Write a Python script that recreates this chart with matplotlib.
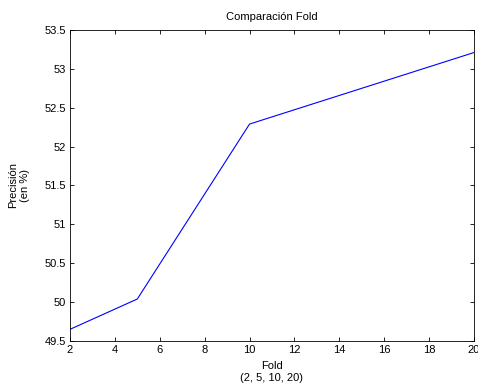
import matplotlib
matplotlib.use("Agg")
import matplotlib.pyplot as plt

folds = [2, 5, 10, 20]
precision = [49.65, 50.04, 52.29, 53.21]

plt.rcParams['font.family'] = ['Liberation Sans', 'DejaVu Sans']
plt.rcParams['font.size'] = 8

fig = plt.figure(figsize=(4.78, 3.91), dpi=100)
ax = fig.add_axes([0.1464, 0.1279, 0.8452, 0.7954])
ax.plot(folds, precision, color='blue', linewidth=0.8)
ax.set_xlim(2, 20)
ax.set_ylim(49.5, 53.5)
ax.set_xticks(range(2, 21, 2))
ax.set_yticks([49.5, 50, 50.5, 51, 51.5, 52, 52.5, 53, 53.5])
ax.set_yticklabels(['49.5', '50', '50.5', '51', '51.5', '52', '52.5', '53', '53.5'])
ax.tick_params(direction='in', top=True, right=True, length=3, width=0.6, pad=3)
for s in ax.spines.values():
    s.set_linewidth(0.6)
ax.set_title('Comparación Fold', fontsize=8, pad=7)
ax.set_xlabel('Fold\n(2, 5, 10, 20)', labelpad=4, linespacing=1.3)
ax.set_ylabel('Precisión\n(en %)', labelpad=10, linespacing=1.3)

fig.savefig('out.png', dpi=100)
